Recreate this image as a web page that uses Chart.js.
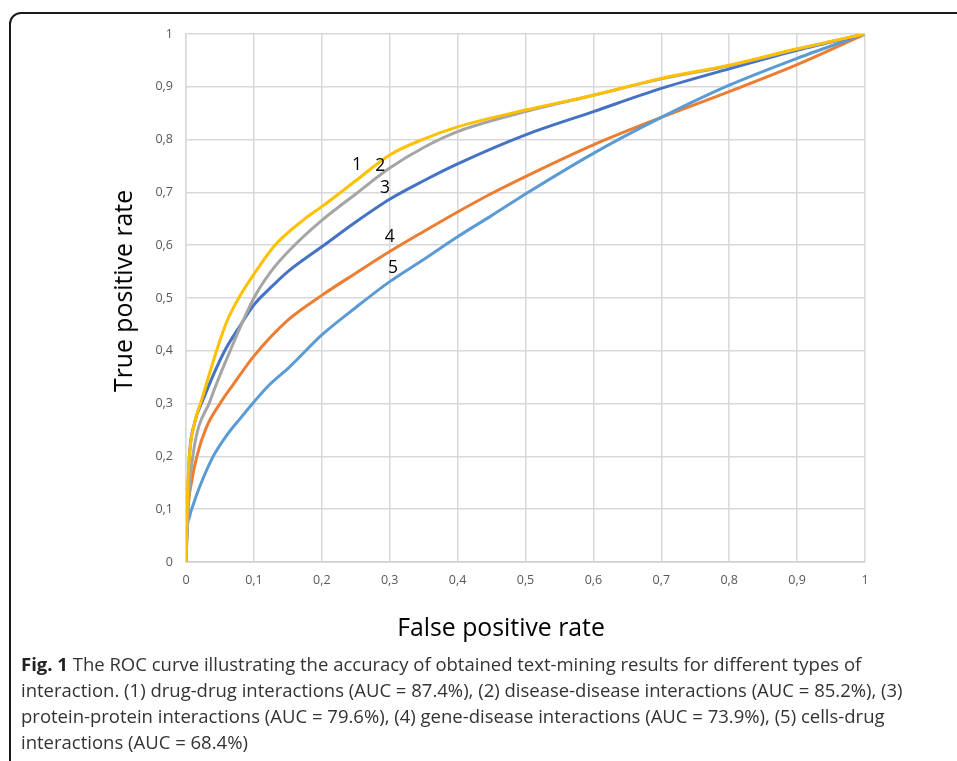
<!DOCTYPE html>
<html>
<head>
<meta charset="utf-8">
<script src="https://cdn.jsdelivr.net/npm/chart.js@4.4.1/dist/chart.umd.min.js"></script>
<style>
  html, body { margin:0; padding:0; background:#fff; width:957px; height:761px; overflow:hidden; }
  #frame { position:absolute; left:9px; top:12px; width:1000px; height:800px; border:2px solid #1a1a1a; border-radius:12px; box-sizing:border-box; }
  #wrap { position:absolute; left:0; top:0; width:957px; height:761px; }
  .ytitle { position:absolute; left:122px; top:291px; transform:translate(-50%,-50%) rotate(-90deg); font-family:"Open Sans", sans-serif; font-size:24.8px; color:#000; white-space:nowrap; }
  .xtitle { position:absolute; left:501px; top:626px; transform:translate(-50%,-50%); font-family:"Open Sans", sans-serif; font-size:24.8px; color:#000; white-space:nowrap; }
  #caption { position:absolute; left:21px; top:651px; font-family:"Open Sans", sans-serif; font-size:18.5px; line-height:26px; color:#333; white-space:nowrap; }
  #caption b { color:#222; }
</style>
</head>
<body>
<div id="frame"></div>
<div id="wrap"><canvas id="c" width="957" height="761"></canvas></div>
<div class="ytitle">True positive rate</div>
<div class="xtitle">False positive rate</div>
<div id="caption"><b>Fig. 1</b> The ROC curve illustrating the accuracy of obtained text-mining results for different types of<br>interaction. (1) drug-drug interactions (AUC = 87.4%), (2) disease-disease interactions (AUC = 85.2%), (3)<br>protein-protein interactions (AUC = 79.6%), (4) gene-disease interactions (AUC = 73.9%), (5) cells-drug<br>interactions (AUC = 68.4%)</div>
<script>
// Series 1: drug-drug
const fpr1 = [0, 0.002, 0.005, 0.012, 0.023, 0.045, 0.06, 0.08, 0.1, 0.131, 0.173, 0.2, 0.25, 0.3, 0.35, 0.4, 0.5, 0.6, 0.7, 0.8, 0.9, 1];
const tpr1 = [0, 0.12, 0.2, 0.26, 0.307, 0.4, 0.455, 0.505, 0.545, 0.6, 0.648, 0.673, 0.722, 0.771, 0.801, 0.824, 0.856, 0.884, 0.916, 0.941, 0.972, 1];
// Series 2: disease-disease
const fpr2 = [0, 0.003, 0.01, 0.036, 0.065, 0.1, 0.125, 0.156, 0.2, 0.25, 0.3, 0.35, 0.4, 0.5, 0.6, 0.7, 0.8, 0.9, 1];
const tpr2 = [0, 0.1, 0.2, 0.307, 0.4, 0.5, 0.55, 0.595, 0.647, 0.697, 0.746, 0.785, 0.815, 0.853, 0.884, 0.915, 0.94, 0.971, 1];
// Series 3: protein-protein
const fpr3 = [0, 0.002, 0.005, 0.012, 0.026, 0.057, 0.08, 0.1, 0.125, 0.15, 0.2, 0.25, 0.3, 0.35, 0.4, 0.5, 0.6, 0.7, 0.8, 0.9, 1];
const tpr3 = [0, 0.1, 0.2, 0.26, 0.31, 0.4, 0.448, 0.487, 0.52, 0.55, 0.597, 0.644, 0.687, 0.722, 0.754, 0.809, 0.853, 0.897, 0.934, 0.969, 1];
// Series 4: gene-disease
const fpr4 = [0, 0.003, 0.008, 0.016, 0.03, 0.05, 0.07, 0.1, 0.15, 0.2, 0.25, 0.3, 0.35, 0.4, 0.45, 0.5, 0.6, 0.7, 0.8, 0.9, 1];
const tpr4 = [0, 0.1, 0.15, 0.2, 0.255, 0.3, 0.337, 0.39, 0.458, 0.505, 0.547, 0.588, 0.626, 0.663, 0.698, 0.73, 0.79, 0.842, 0.891, 0.942, 1];
// Series 5: cells-drug
const fpr5 = [0, 0.001, 0.005, 0.011, 0.02, 0.04, 0.06, 0.08, 0.1, 0.12, 0.153, 0.2, 0.25, 0.3, 0.35, 0.4, 0.45, 0.5, 0.6, 0.7, 0.8, 0.9, 1];
const tpr5 = [0, 0.05, 0.085, 0.11, 0.142, 0.2, 0.24, 0.272, 0.303, 0.332, 0.37, 0.43, 0.482, 0.531, 0.573, 0.616, 0.656, 0.697, 0.774, 0.842, 0.903, 0.954, 1];

const tickLabels = ['0', '0,1', '0,2', '0,3', '0,4', '0,5', '0,6', '0,7', '0,8', '0,9', '1'];
const curveLabels = ['1', '2', '3', '4', '5'];
const curveLabelX = [0.252, 0.286, 0.293, 0.300, 0.305];
const curveLabelY = [0.752, 0.750, 0.708, 0.616, 0.557];

function pts(xs, ys) { return xs.map((x, i) => ({ x: x, y: ys[i] })); }

const seriesStyle = (color) => ({
  borderColor: color, backgroundColor: color, borderWidth: 3,
  pointRadius: 0, showLine: true, fill: false, cubicInterpolationMode: 'monotone'
});

const labelPlugin = {
  id: 'curveLabels',
  afterDatasetsDraw(chart) {
    const ctx = chart.ctx, xs = chart.scales.x, ys = chart.scales.y;
    ctx.save();
    ctx.font = '17.5px "Open Sans", sans-serif';
    ctx.fillStyle = '#000';
    ctx.textAlign = 'center';
    ctx.textBaseline = 'middle';
    curveLabels.forEach((t, i) => {
      ctx.fillText(t, xs.getPixelForValue(curveLabelX[i]), ys.getPixelForValue(curveLabelY[i]));
    });
    ctx.restore();
  }
};

new Chart(document.getElementById('c'), {
  type: 'scatter',
  data: {
    datasets: [
      Object.assign({ label: '1', data: pts(fpr1, tpr1) }, seriesStyle('#FFC000')),
      Object.assign({ label: '2', data: pts(fpr2, tpr2) }, seriesStyle('#A5A5A5')),
      Object.assign({ label: '3', data: pts(fpr3, tpr3) }, seriesStyle('#4472C4')),
      Object.assign({ label: '5', data: pts(fpr5, tpr5) }, seriesStyle('#5B9BD5')),
      Object.assign({ label: '4', data: pts(fpr4, tpr4) }, seriesStyle('#ED7D31'))
    ]
  },
  options: {
    responsive: false,
    animation: false,
    layout: { padding: { left: 0, top: 34, right: 92, bottom: 169 } },
    plugins: { legend: { display: false }, tooltip: { enabled: false } },
    scales: {
      x: {
        type: 'linear', min: 0, max: 1,
        afterFit: (s) => { s.height = 30; },
        afterBuildTicks: (s) => { s.ticks = tickLabels.map((t, i) => ({ value: i / 10 })); },
        ticks: { padding: 11, color: '#595959', font: { family: '"Open Sans", sans-serif', size: 12.5 },
                 maxRotation: 0, autoSkip: false, callback: (v, i) => tickLabels[i] },
        grid: { color: '#D9D9D9', lineWidth: 1.5, drawTicks: false },
        border: { color: '#CFCFCF', width: 1.5 }
      },
      y: {
        type: 'linear', min: 0, max: 1,
        afterFit: (s) => { s.width = 186; },
        afterBuildTicks: (s) => { s.ticks = tickLabels.map((t, i) => ({ value: i / 10 })); },
        ticks: { padding: 13, color: '#595959', font: { family: '"Open Sans", sans-serif', size: 12.5 },
                 autoSkip: false, callback: (v, i) => tickLabels[i] },
        grid: { color: '#D9D9D9', lineWidth: 1.5, drawTicks: false },
        border: { color: '#D9D9D9', width: 1.5 }
      }
    }
  },
  plugins: [labelPlugin]
});
</script>
</body>
</html>
